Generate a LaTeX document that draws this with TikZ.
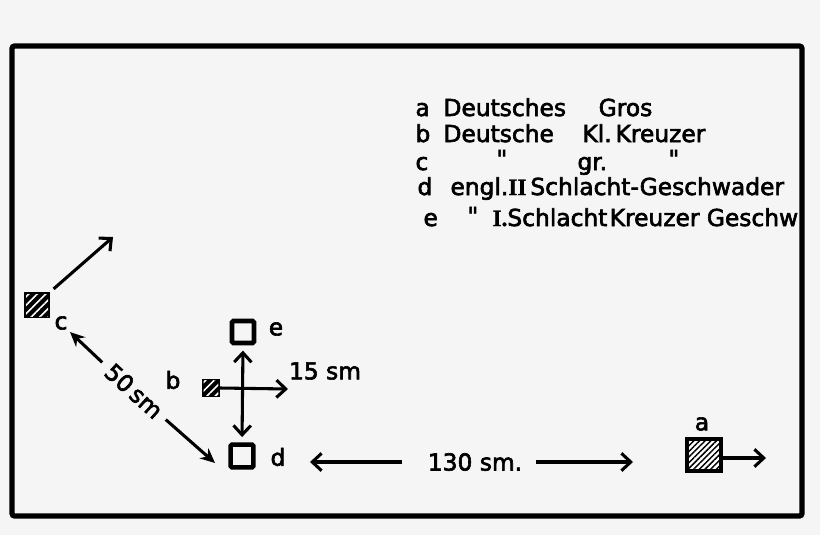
\documentclass[tikz,border=0pt]{standalone}
\usepackage{fontspec}
\setmainfont{DejaVu Sans}
\newfontfamily\handfont{DejaVu Sans}[FakeBold=2.6]
\newfontfamily\romnum{Liberation Serif}[FakeBold=1]
\usetikzlibrary{arrows.meta,patterns.meta}

\tikzset{every picture/.style={line width=0.75pt}}
\tikzset{
  lettering/.style={font=\handfont\fontsize{17.5}{20}\selectfont, inner sep=0pt},
  frame/.style={line width=4pt, rounded corners=2pt},
  openbox/.style={draw, line width=3.4pt, rounded corners=1pt, inner sep=0pt},
  darkbox/.style={draw, line width=2.4pt, fill=black, inner sep=0pt,
    postaction={pattern={Lines[angle=45,distance=4.5pt,line width=1.2pt]}, pattern color=white}},
  lightbox/.style={draw, line width=3pt, fill=white, inner sep=0pt,
    postaction={pattern={Lines[angle=45,distance=3pt,line width=1.1pt]}, pattern color=black}},
  arr/.style={line width=2.3pt, -{Straight Barb[length=7pt,width=13pt]}},
  dblarr/.style={line width=2.3pt, {Straight Barb[length=7pt,width=13pt]}-{Straight Barb[length=7pt,width=13pt]}},
  stlarr/.style={line width=2.3pt, -{Stealth[length=11pt,width=10pt]}}
}

\begin{document}
\begin{tikzpicture}[x=0.75pt,y=0.75pt,yscale=-1,xscale=1]
        \useasboundingbox (0,0) rectangle (820,535);
        %Shape: Background
        \fill [black!4] (0,0) rectangle (820,535);
        %Shape: Frame
        \draw [frame] (12,46) rectangle (802,516);

        %Shape: Square [a]
        \node [lightbox, minimum width=26pt, minimum height=24pt] (a) at (704,455) {};
        %Shape: Square [b]
        \node [darkbox, minimum size=11pt] (b) at (211,388) {};
        %Shape: Square [c]
        \node [darkbox, minimum size=16.5pt] (c) at (37,305) {};
        %Shape: Square [d]
        \node [openbox, minimum size=17pt] (d) at (242,456) {};
        %Shape: Square [e]
        \node [openbox, minimum size=16.5pt] (e) at (243,332) {};

        % Text Node
        \node [lettering] (aLab) at (702,424) {a};
        % Text Node
        \node [lettering] (bLab) at (173,380) {b};
        % Text Node
        \node [lettering] (cLab) at (61,323) {c};
        % Text Node
        \node [lettering] (dLab) at (278,457) {d};
        % Text Node
        \node [lettering] (eLab) at (276,329) {e};
        % Text Node
        \node [lettering] (dist15) at (325,371) {15 sm};
        % Text Node
        \node [lettering] (dist130) at (475,462) {130 sm.};
        % Text Node
        \node [lettering, inner sep=6pt, rotate=-42] (dist50) at (134,391) {50\,sm};

        %Straight Lines [c course]
        \coordinate (cHead) at (113,237);
        \draw [arr, shorten <=4pt] (c.north east) -- (cHead);
        %Straight Lines [b course]
        \coordinate (bHead) at (288,389);
        \draw [arr] (b.east) -- (bHead);
        %Straight Lines [e to d]
        \draw [dblarr, shorten <=4pt, shorten >=4pt] (e.south) -- (d.north);
        %Straight Lines [c to d]
        \coordinate (cTip) at (70,332);
        \coordinate (dTip) at (215,463);
        \draw [stlarr] (dist50.west) -- (cTip);
        \draw [stlarr] (dist50.east) -- (dTip);
        %Straight Lines [d to a]
        \coordinate (dEnd) at (310,462);
        \coordinate (aEnd) at (633,462);
        \draw [arr, shorten <=19pt] (dist130.west) -- (dEnd);
        \draw [arr, shorten <=10pt] (dist130.east) -- (aEnd);
        %Straight Lines [a course]
        \coordinate (aHead) at (766,458);
        \draw [arr] (a.east |- aHead) -- (aHead);

        % Text Node
        \node [lettering, anchor=base west] (keyA) at (415,116) {a};
        \node [lettering, anchor=base west] (txtA) at (443,116) {Deutsches\hspace{1.4em}Gros};
        % Text Node
        \node [lettering, anchor=base west] (keyB) at (415,142) {b};
        \node [lettering, anchor=base west] (txtB) at (443,142) {Deutsche};
        \node [lettering, anchor=base west] (txtB2) at (582,142) {Kl.\,Kreuzer};
        % Text Node
        \node [lettering, anchor=base west] (keyC) at (415,170) {c};
        \node [lettering, anchor=base west] (ditC1) at (496,167) {"};
        \node [lettering, anchor=base west] (txtC) at (577,170) {gr.};
        \node [lettering, anchor=base west] (ditC2) at (668,167) {"};
        % Text Node
        \node [lettering, anchor=base west] (keyD) at (417,195) {d};
        \node [lettering, anchor=base west] (txtD) at (450,195) {engl.{\romnum\bfseries II}\,Schlacht-Geschwader};
        % Text Node
        \node [lettering, anchor=base west] (keyE) at (423,226) {e};
        \node [lettering, anchor=base west] (ditE) at (467,224) {"};
        \node [lettering, anchor=base west] (txtE) at (492,226) {{\romnum\bfseries I.}Schlacht\hspace{0.1em}Kreuzer Geschw};

\end{tikzpicture}
\end{document}
